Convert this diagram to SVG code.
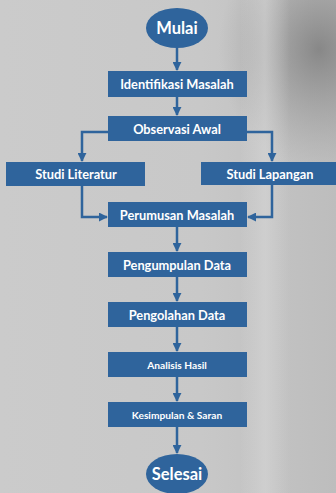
<svg xmlns="http://www.w3.org/2000/svg" width="336" height="493" viewBox="0 0 336 493">
<defs>
<linearGradient id="bg" x1="0" y1="0" x2="1" y2="0">
<stop offset="0" stop-color="#cbcbcb"/>
<stop offset="0.6" stop-color="#c8c8c8"/>
<stop offset="1" stop-color="#bdbdbd"/>
</linearGradient>
<radialGradient id="dark" cx="0.95" cy="0.1" r="0.3" gradientTransform="translate(0.95 0.1) scale(1 0.8) translate(-0.95 -0.1)">
<stop offset="0" stop-color="#707070" stop-opacity="0.7"/>
<stop offset="1" stop-color="#8a8a8a" stop-opacity="0"/>
</radialGradient>
<linearGradient id="band" x1="0" y1="0" x2="1" y2="0">
<stop offset="0" stop-color="#dadada" stop-opacity="0"/>
<stop offset="0.5" stop-color="#dadada" stop-opacity="0.5"/>
<stop offset="1" stop-color="#dadada" stop-opacity="0"/>
</linearGradient>
<marker id="ah" viewBox="0 0 10 10" refX="9" refY="5" markerWidth="3.6" markerHeight="3.6" orient="auto" markerUnits="strokeWidth">
<path d="M0,0 L10,5 L0,10 z" fill="#2f649c"/>
</marker>
<style>
.box{fill:#2f649c;}
.t{fill:#ffffff;font-family:Lato,"Open Sans",sans-serif;font-weight:bold;text-anchor:middle;dominant-baseline:central;font-size:12.8px;}
.s{font-size:10.2px;}
.e{font-size:16.5px;}
.c{fill:none;stroke:#2f649c;stroke-width:2.5;marker-end:url(#ah);}
</style>
</defs>
<rect x="0" y="0" width="336" height="493" fill="url(#bg)"/>
<rect x="0" y="0" width="336" height="493" fill="url(#dark)"/>
<rect x="240" y="0" width="50" height="493" fill="url(#band)"/>

<g id="connectors">
<path class="c" d="M177,48 V70"/>
<path class="c" d="M177,97 V115"/>
<path class="c" d="M108,132 H82 V161"/>
<path class="c" d="M247,132 H272 V161"/>
<path class="c" d="M82,186 V217 H107"/>
<path class="c" d="M272,185 V217 H248"/>
<path class="c" d="M177,227 V251"/>
<path class="c" d="M177,277 V301"/>
<path class="c" d="M177,327 V351"/>
<path class="c" d="M177,377 V401"/>
<path class="c" d="M177,427 V453"/>
</g>

<g id="mulai"><ellipse class="box" cx="177" cy="28" rx="31" ry="20"/><text class="t e" x="177" y="28">Mulai</text></g>
<g id="identifikasi"><rect class="box" x="108" y="71" width="139" height="26"/><text class="t" x="177" y="84">Identifikasi Masalah</text></g>
<g id="observasi"><rect class="box" x="108" y="116" width="139" height="25"/><text class="t" x="177" y="128.5">Observasi Awal</text></g>
<g id="literatur"><rect class="box" x="6" y="162" width="139" height="24"/><text class="t" x="76" y="174">Studi Literatur</text></g>
<g id="lapangan"><rect class="box" x="201" y="162" width="135" height="23"/><text class="t" x="270" y="173.5">Studi Lapangan</text></g>
<g id="perumusan"><rect class="box" x="108" y="202" width="139" height="25"/><text class="t" x="177" y="214.5">Perumusan Masalah</text></g>
<g id="pengumpulan"><rect class="box" x="108" y="252" width="139" height="25"/><text class="t" x="177" y="264.5">Pengumpulan Data</text></g>
<g id="pengolahan"><rect class="box" x="108" y="302" width="139" height="25"/><text class="t" x="177" y="314.5">Pengolahan Data</text></g>
<g id="analisis"><rect class="box" x="108" y="352" width="139" height="25"/><text class="t s" x="177" y="364.5">Analisis Hasil</text></g>
<g id="kesimpulan"><rect class="box" x="108" y="402" width="139" height="25"/><text class="t s" x="177" y="414.5">Kesimpulan &amp; Saran</text></g>
<g id="selesai"><ellipse class="box" cx="177" cy="474" rx="31" ry="20"/><text class="t e" x="177" y="474">Selesai</text></g>
</svg>
